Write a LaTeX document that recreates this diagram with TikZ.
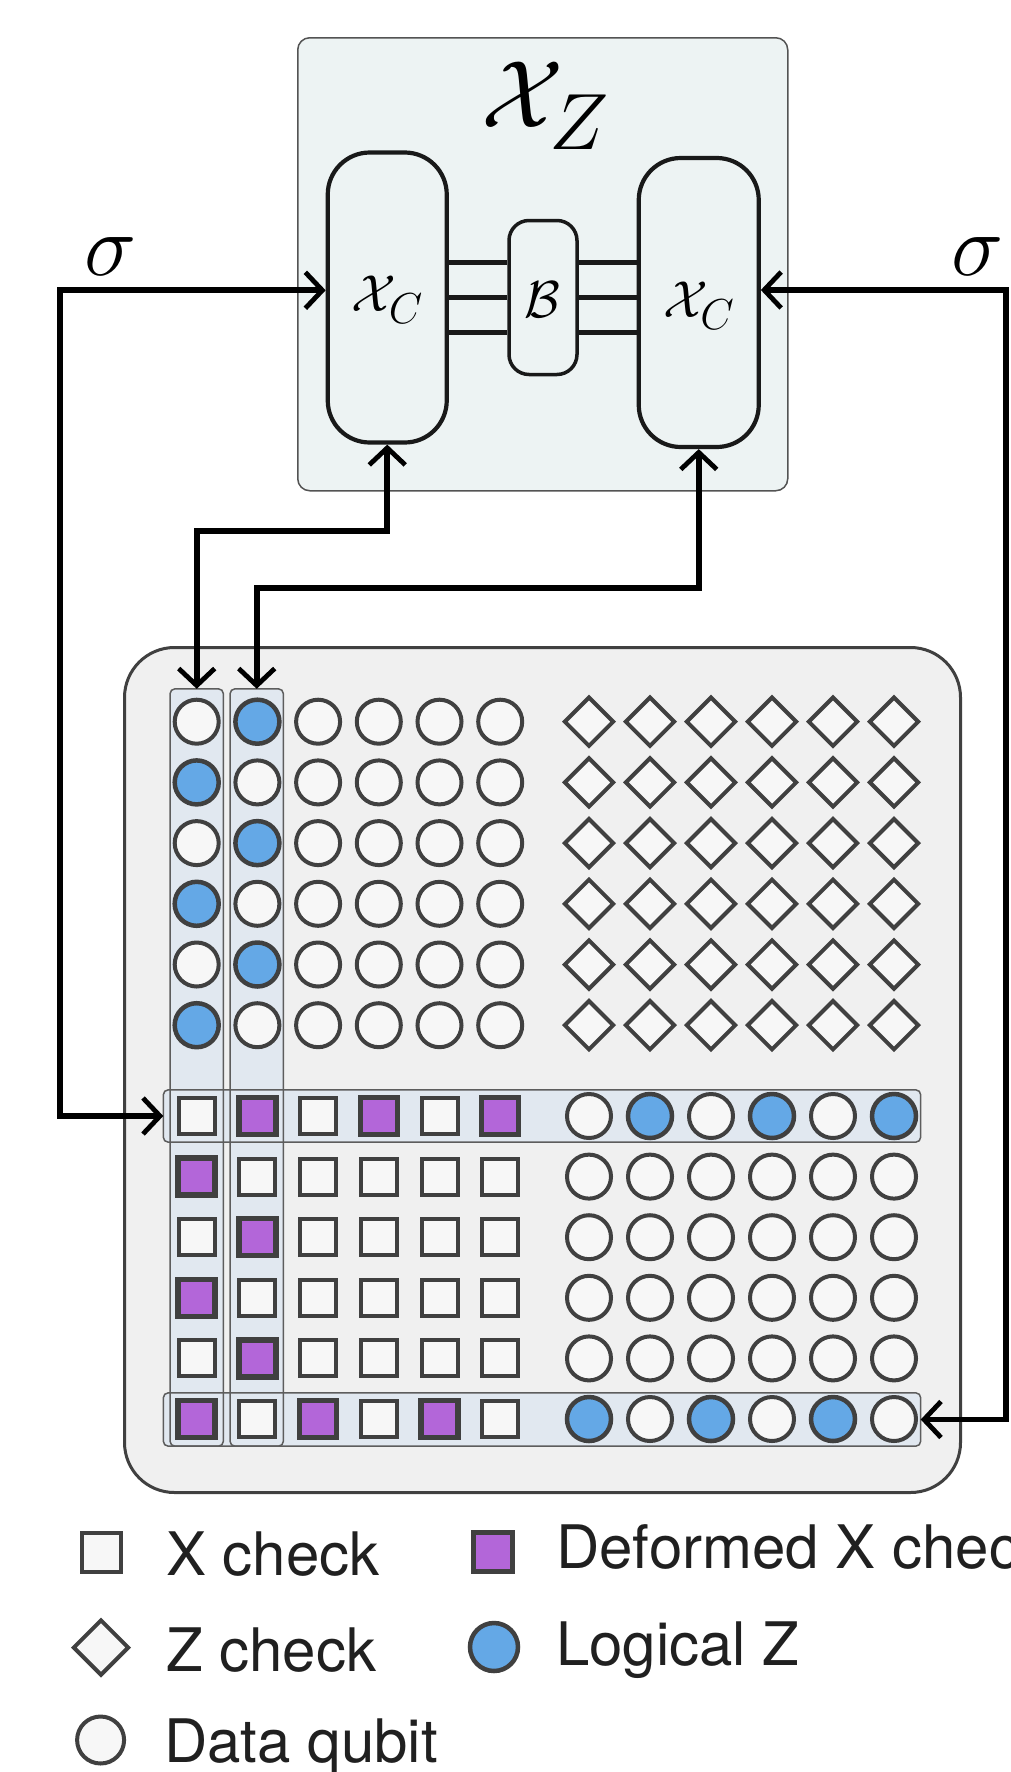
\documentclass[tikz,border=0pt]{standalone}
\usepackage{graphicx}
\usepackage{fontspec}
\newfontfamily\legfont{TeX Gyre Heros}
\usetikzlibrary{shapes.geometric,arrows.meta}
\definecolor{edgec}{HTML}{404040}
\definecolor{qfill}{HTML}{F7F7F7}
\definecolor{lblue}{HTML}{64A8E6}
\definecolor{lpurple}{HTML}{B366D9}
\definecolor{panelc}{HTML}{F0F0F0}
\definecolor{stripc}{HTML}{E1E8F0}
\definecolor{topfill}{HTML}{EDF3F3}
\definecolor{txtc}{HTML}{202020}
\newcommand{\bigmath}[2]{\scalebox{#1}{\Huge$#2$}}
\tikzset{
  qubit/.style={circle,draw=edgec,fill=qfill,line width=4pt,minimum size=44pt,inner sep=0pt},
  logz/.style={qubit,fill=lblue,line width=4.5pt},
  xchk/.style={rectangle,draw=edgec,fill=qfill,line width=4pt,minimum size=36pt,inner sep=0pt},
  dxchk/.style={xchk,fill=lpurple,line width=5.5pt,minimum size=37pt},
  zchk/.style={diamond,draw=edgec,fill=qfill,line width=4pt,minimum size=50pt,inner sep=0pt},
  stripbox/.style={rectangle,rounded corners=5pt,fill=stripc,inner sep=0pt},
  stripedge/.style={draw=edgec!85,line width=1.5pt,rounded corners=5pt},
  codebox/.style={rectangle,draw=black!90,fill=topfill,line width=4.2pt,inner sep=0pt},
  mathlbl/.style={inner sep=0pt},
  legtext/.style={anchor=base west,inner sep=0pt,text=txtc,font=\legfont\fontsize{60}{72}\selectfont},
  mybarb/.tip={Straight Barb[length=17pt,width=36pt,line width=4.8pt]},
  dbl/.style={line width=5.8pt,black,arrows=mybarb-mybarb},
  busline/.style={line width=4.5pt,black!90}
}
\begin{document}
\begin{tikzpicture}[x=1pt,y=-1pt]
\useasboundingbox (0,0) rectangle (1011,1772);
\clip (0,0) rectangle (1011,1772);

% ---- top code box ----
\node[rectangle,draw=edgec!90,fill=topfill,line width=1.5pt,rounded corners=12pt,
      minimum width=490pt,minimum height=453pt,inner sep=0pt] (xz) at (542.75,264.25) {};
\node[mathlbl] (xzlbl) at (546,106) {\bigmath{3.85}{\mathcal{X}_Z}};
\node[codebox,rounded corners=42pt,minimum width=119pt,minimum height=290pt] (xcl) at (387.25,297.5) {};
\node[codebox,rounded corners=42pt,minimum width=120pt,minimum height=289pt] (xcr) at (698.75,302.5) {};
\node[codebox,line width=3.5pt,rounded corners=20pt,minimum width=68pt,minimum height=154pt] (bb) at (543,297.5) {};
\node[mathlbl] (xcllbl) at (387.5,300) {\bigmath{2.09}{\mathcal{X}_C}};
\node[mathlbl] (xcrlbl) at (699,306) {\bigmath{2.09}{\mathcal{X}_C}};
\node[mathlbl] (bblbl) at (542.5,300) {\bigmath{2.09}{\mathcal{B}}};
\foreach \dy in {35,0,-35}{
  \draw[busline] ([yshift=\dy pt]bb.west) -- ([yshift=\dy pt]bb.west -| xcl.east);
  \draw[busline] ([yshift=\dy pt]bb.east) -- ([yshift=\dy pt]bb.east -| xcr.west);
}
\node[mathlbl] (sigl) at (111,257) {\bigmath{3.54}{\sigma}};
\node[mathlbl] (sigr) at (978,257) {\bigmath{3.54}{\sigma}};

% ---- lattice panel ----
\node[rectangle,draw=edgec,fill=panelc,line width=3pt,rounded corners=50pt,
      minimum width=836pt,minimum height=845pt,inner sep=0pt] (panel) at (542.5,1070) {};

% strips
\node[stripbox,minimum width=53pt,minimum height=757pt] (v1) at (196.7,1067.5) {};
\node[stripbox,minimum width=53pt,minimum height=757pt] (v2) at (256.7,1067.5) {};
\node[stripbox,minimum width=757pt,minimum height=52pt] (h1) at (542,1116) {};
\node[stripbox,minimum width=757pt,minimum height=53pt] (h2) at (542,1419.5) {};
\foreach \s in {v1,v2,h1,h2}{
  \draw[stripedge] (\s.south west) rectangle (\s.north east);
}

% top-left data qubits
\foreach \r in {0,...,5}{
  \foreach \c in {0,...,5}{
    \pgfmathsetmacro\xx{196.7+60.7*\c}
    \pgfmathsetmacro\yy{721.7+60.7*\r}
    \pgfmathtruncatemacro\isz{or(and(\c==0,isodd(\r)),and(\c==1,iseven(\r)))}
    \ifnum\isz=1 \def\sty{logz}\else\def\sty{qubit}\fi
    \node[\sty] (tl-\r-\c) at (\xx,\yy) {};
  }
}
% top-right Z checks
\foreach \r in {0,...,5}{
  \foreach \c in {0,...,5}{
    \pgfmathsetmacro\xx{589+61*\c}
    \pgfmathsetmacro\yy{721.7+60.7*\r}
    \node[zchk] (tr-\r-\c) at (\xx,\yy) {};
  }
}
% bottom-left X checks
\foreach \r in {0,...,5}{
  \foreach \c in {0,...,5}{
    \pgfmathsetmacro\xx{196.7+60.7*\c}
    \pgfmathsetmacro\yy{1116+60.6*\r}
    \pgfmathtruncatemacro\isd{or(or(and(\r==0,isodd(\c)),and(\r==5,iseven(\c))),or(and(\c==0,and(\r>0,and(\r<5,isodd(\r)))),and(\c==1,and(\r>0,and(\r<5,iseven(\r))))))}
    \ifnum\isd=1 \def\sty{dxchk}\else\def\sty{xchk}\fi
    \node[\sty] (bl-\r-\c) at (\xx,\yy) {};
  }
}
% bottom-right data qubits
\foreach \r in {0,...,5}{
  \foreach \c in {0,...,5}{
    \pgfmathsetmacro\xx{589+61*\c}
    \pgfmathsetmacro\yy{1116+60.6*\r}
    \pgfmathtruncatemacro\isz{or(and(\r==0,isodd(\c)),and(\r==5,iseven(\c)))}
    \ifnum\isz=1 \def\sty{logz}\else\def\sty{qubit}\fi
    \node[\sty] (br-\r-\c) at (\xx,\yy) {};
  }
}

% ---- arrows ----
\coordinate (s1) at (60.3,0);
\coordinate (s2) at (1006,0);
\coordinate (m1) at (0,531);
\coordinate (m2) at (0,588);
\draw[dbl] ([yshift=7.2pt]xcl.west) -| (s1 |- h1.west) -- (h1.west);
\draw[dbl] ([yshift=12.5pt]xcr.east) -| (s2 |- h2.east) -- (h2.east);
\draw[dbl] (xcl.south) |- (v1.north |- m1) -- (v1.north);
\draw[dbl] (xcr.south) |- (v2.north |- m2) -- (v2.north);

% ---- legend ----
\node[xchk,minimum size=39pt] (lgx) at (101,1552) {};
\node[dxchk,minimum size=39pt] (lgdx) at (493,1552) {};
\node[zchk,minimum size=56pt] (lgz) at (101,1647.5) {};
\node[logz,minimum size=48pt] (lglz) at (494,1647) {};
\node[qubit,minimum size=47pt] (lgd) at (100.6,1740) {};
\node[legtext] (tlgx) at (166,1575) {X check};
\node[legtext] (tlgdx) at (556,1568) {Deformed X check};
\node[legtext] (tlgz) at (166,1671) {Z check};
\node[legtext] (tlglz) at (556,1665) {Logical Z};
\node[legtext] (tlgd) at (164,1762) {Data qubit};
\end{tikzpicture}
\end{document}
